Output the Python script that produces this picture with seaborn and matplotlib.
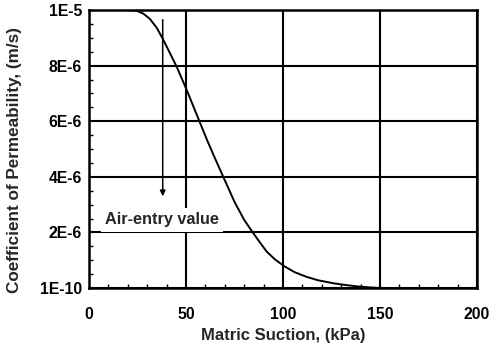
import matplotlib
matplotlib.use("Agg")
import matplotlib.pyplot as plt
import matplotlib.ticker as mticker
import seaborn as sns
import pandas as pd

# curve (suction kPa, permeability in m/s)
suction = [21, 23, 25, 28, 31.4, 35, 38.3, 41, 45.2, 50.4, 54, 57.2, 61, 64.1,
           69.2, 75, 80, 83.9, 88, 91.6, 96, 101, 106, 112.2, 118, 126, 132,
           138, 144, 150]
perm = [10.0e-6, 9.99e-6, 9.96e-6, 9.87e-6, 9.68e-6, 9.35e-6, 8.93e-6, 8.55e-6,
        7.96e-6, 7.12e-6, 6.5e-6, 5.95e-6, 5.3e-6, 4.8e-6, 4.0e-6, 3.1e-6,
        2.45e-6, 2.05e-6, 1.65e-6, 1.31e-6, 1.02e-6, 0.77e-6, 0.57e-6, 0.40e-6,
        0.28e-6, 0.17e-6, 0.11e-6, 0.06e-6, 0.025e-6, 0.0]
y_ticks = [0, 2e-6, 4e-6, 6e-6, 8e-6, 1e-5]
y_labels = ["1E-10", "2E-6", "4E-6", "6E-6", "8E-6", "1E-5"]
x_ticks = [0, 50, 100, 150, 200]
air_entry = 38

df = pd.DataFrame({"suction": suction, "perm": perm})

sns.set_style("white")
plt.rcParams["font.family"] = ["Liberation Sans", "DejaVu Sans"]
plt.rcParams["font.weight"] = "bold"
plt.rcParams["axes.labelweight"] = "bold"

fig = plt.figure(figsize=(4.93, 3.46), dpi=100)
ax = fig.add_axes([0.1805, 0.1676, 0.787, 0.8035])

sns.lineplot(data=df, x="suction", y="perm", color="black", lw=1.4, ax=ax)

ax.set_xlim(0, 200)
ax.set_ylim(0, 1e-5)
ax.set_xticks(x_ticks)
ax.set_yticks(y_ticks)
ax.yaxis.set_major_formatter(mticker.FixedFormatter(y_labels))
ax.xaxis.set_minor_locator(mticker.MultipleLocator(10))
ax.yaxis.set_minor_locator(mticker.MultipleLocator(0.5e-6))
ax.tick_params(which="major", direction="in", length=0, labelsize=11.3,
               colors="black")
ax.tick_params(axis="x", which="major", pad=14)
ax.tick_params(axis="y", which="major", pad=5)
ax.tick_params(which="minor", direction="in", length=3, width=1,
               bottom=True, left=True, colors="black")
ax.grid(True, which="major", color="black", lw=1.5)
for s in ax.spines.values():
    s.set_color("black")
    s.set_linewidth(1.8)

ax.annotate("", xy=(air_entry, 3.2e-6), xytext=(air_entry, 9.75e-6),
            arrowprops=dict(arrowstyle="-|>", color="black", lw=1.1,
                            mutation_scale=8))
ax.text(37.5, 2.45e-6, "Air-entry value", ha="center", va="center",
        fontsize=11.7, bbox=dict(fc="white", ec="none", pad=3))

ax.set_xlabel("Matric Suction, (kPa)", fontsize=12)
ax.set_ylabel("Coefficient of Permeability, (m/s)", fontsize=12.3)
ax.xaxis.set_label_coords(0.5, -0.145)
ax.yaxis.set_label_coords(-0.173, 0.46)

fig.savefig("out.png", dpi=100)
